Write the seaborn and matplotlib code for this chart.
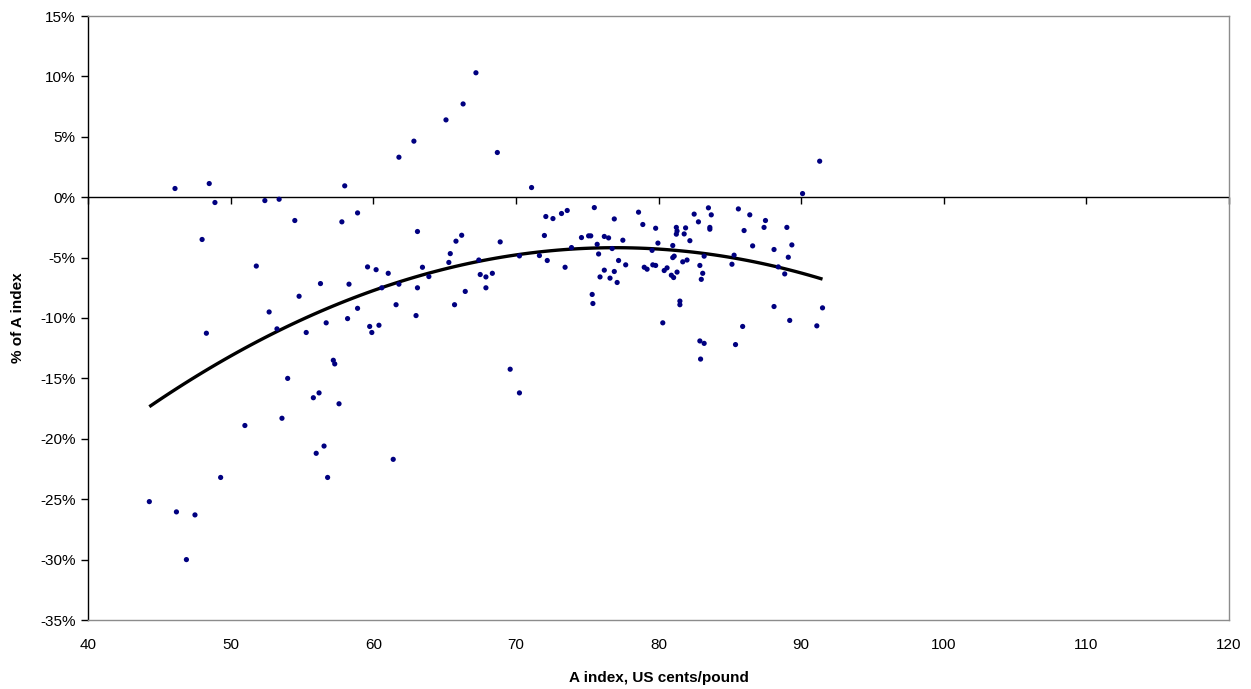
import numpy as np
import pandas as pd
import matplotlib
matplotlib.use("Agg")
import matplotlib.pyplot as plt
import seaborn as sns
from matplotlib.ticker import FuncFormatter

a_index = [
    46.1, 48.5, 48.9, 48.0, 52.4, 53.4, 54.5, 58.0, 57.8, 58.9,
    51.8, 59.6, 60.2, 56.3, 58.3, 54.8, 58.9, 52.7, 48.3, 53.25,
    55.3, 56.7, 58.2, 59.75, 59.9, 60.4, 57.2, 57.3, 54.0, 56.2,
    55.8, 57.6, 53.6, 51.0, 56.55, 56.0, 49.3, 56.8, 44.3, 46.2,
    47.5, 46.9, 61.4, 61.8, 62.85, 65.1, 66.3, 67.2, 68.7, 71.1,
    63.1, 61.05, 61.8, 60.6, 63.45, 63.9, 63.1, 61.6, 65.4, 65.3,
    65.8, 66.2, 65.7, 66.45, 67.4, 67.5, 67.9, 68.35, 67.9, 68.9,
    70.25, 71.65, 72.2, 72.0, 72.1, 72.6, 73.2, 73.6, 73.45, 73.9,
    74.6, 75.1, 75.25, 75.5, 75.7, 75.8, 75.35, 75.4, 76.2, 76.5,
    76.9, 76.75, 77.2, 76.2, 75.9, 76.6, 76.9, 77.1, 63.0, 69.6,
    70.25, 78.6, 78.9, 79.8, 81.25, 81.3, 81.25, 81.9, 81.8, 82.2,
    82.5, 82.8, 83.5, 83.7, 83.6, 83.6, 77.5, 77.7, 79.55, 79.96,
    79.0, 79.2, 79.6, 79.8, 80.4, 80.6, 81.0, 81.0, 81.1, 80.9,
    81.06, 81.3, 81.7, 82.0, 82.9, 83.1, 83.0, 83.2, 81.5, 81.5,
    80.3, 82.9, 83.2, 82.95, 85.4, 85.9, 88.1, 89.2, 91.1, 91.5,
    91.3, 90.1, 85.6, 86.4, 87.5, 86.0, 87.4, 89.0, 86.6, 88.1,
    89.35, 89.1, 85.3, 85.15, 88.4, 88.85,
]
pct_of_a = [
    0.72, 1.13, -0.44, -3.5, -0.28, -0.17, -1.93, 0.94, -2.04, -1.3,
    -5.7, -5.77, -6.0, -7.15, -7.2, -8.2, -9.2, -9.5, -11.26, -10.9,
    -11.2, -10.4, -10.05, -10.7, -11.2, -10.6, -13.5, -13.8, -15.0, -16.2,
    -16.6, -17.1, -18.3, -18.9, -20.6, -21.2, -23.2, -23.2, -25.2, -26.05,
    -26.3, -30.0, -21.7, 3.31, 4.64, 6.4, 7.72, 10.3, 3.7, 0.8,
    -2.84, -6.3, -7.2, -7.5, -5.8, -6.57, -7.5, -8.9, -4.67, -5.4,
    -3.64, -3.15, -8.9, -7.8, -5.2, -6.4, -6.6, -6.3, -7.5, -3.7,
    -4.86, -4.83, -5.24, -3.17, -1.6, -1.77, -1.35, -1.1, -5.8, -4.17,
    -3.34, -3.2, -3.2, -0.86, -3.9, -4.7, -8.05, -8.8, -3.25, -3.37,
    -1.8, -4.25, -5.24, -6.04, -6.6, -6.7, -6.15, -7.06, -9.8, -14.24,
    -16.2, -1.24, -2.26, -2.57, -2.5, -2.8, -3.06, -2.54, -3.04, -3.6,
    -1.4, -2.04, -0.88, -1.46, -2.5, -2.65, -3.56, -5.6, -4.4, -3.8,
    -5.8, -5.96, -5.6, -5.65, -6.07, -5.85, -4.0, -5.0, -4.88, -6.46,
    -6.65, -6.2, -5.35, -5.2, -5.65, -6.3, -6.8, -4.88, -8.6, -8.9,
    -10.4, -11.9, -12.1, -13.4, -12.2, -10.7, -9.05, -10.2, -10.65, -9.16,
    2.98, 0.3, -0.97, -1.46, -1.93, -2.76, -2.5, -2.5, -4.03, -4.33,
    -3.95, -4.97, -4.8, -5.55, -5.77, -6.35,
]
x_ticks = [40, 50, 60, 70, 80, 90, 100, 110, 120]
y_ticks = [15, 10, 5, 0, -5, -10, -15, -20, -25, -30, -35]

df = pd.DataFrame({"a": a_index, "pct": pct_of_a})

sns.set_theme(style="white")
plt.rcParams["font.family"] = ["Liberation Sans", "DejaVu Sans"]
plt.rcParams["text.color"] = "black"
plt.rcParams["axes.labelcolor"] = "black"

fig = plt.figure(figsize=(12.51, 6.89), dpi=100)
ax = fig.add_axes([88 / 1251, 1 - 620 / 689, (1229 - 88) / 1251, (620 - 16) / 689])

sns.scatterplot(data=df, x="a", y="pct", ax=ax, color="#000080",
                s=14, edgecolor="none", zorder=3, legend=False)
sns.regplot(data=df, x="a", y="pct", ax=ax, order=2, ci=None, scatter=False,
            line_kws=dict(color="black", lw=2.4, solid_capstyle="butt"))

ax.set_xlim(40, 120)
ax.set_ylim(-35, 15)
ax.set_xticks(x_ticks)
ax.set_yticks(y_ticks)
ax.yaxis.set_major_formatter(FuncFormatter(lambda v, p: f"{v:.0f}%"))

ax.axhline(0, color="black", lw=1.0, zorder=2)

for side in ["top", "right", "bottom"]:
    ax.spines[side].set_color("#8c8c8c")
    ax.spines[side].set_linewidth(1.0)
ax.spines["left"].set_color("black")
ax.spines["left"].set_linewidth(1.0)

ax.tick_params(axis="x", length=0, pad=13, labelsize=11, colors="black")
ax.tick_params(axis="y", length=5, width=1, direction="out", left=True,
               pad=4, labelsize=11, colors="black")

sec = ax.secondary_xaxis(0.7)
sec.set_xticks(x_ticks)
sec.tick_params(axis="x", direction="in", length=5, width=1, color="black",
                labeltop=False, labelbottom=False, top=True, bottom=False)
for s in sec.spines.values():
    s.set_visible(False)

ax.set_xlabel("A index, US cents/pound", fontsize=11, fontweight="bold", color="black")
ax.set_ylabel("% of A index", fontsize=11, fontweight="bold", color="black")
ax.xaxis.set_label_coords(0.5, -0.084)
ax.yaxis.set_label_coords(-0.055, 0.5)

fig.savefig("out.png", dpi=100)
